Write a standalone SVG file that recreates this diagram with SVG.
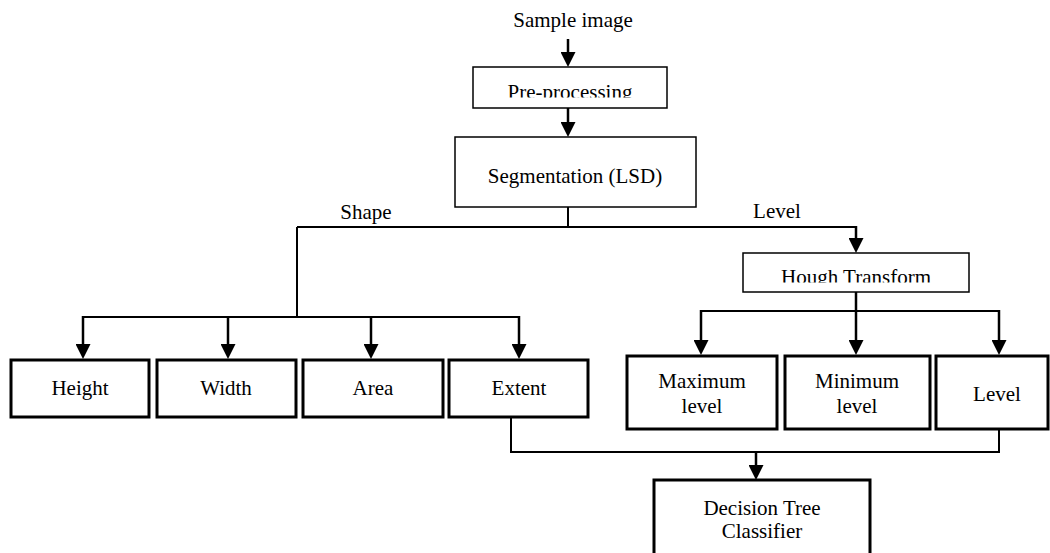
<svg xmlns="http://www.w3.org/2000/svg" width="1050" height="553" viewBox="0 0 1050 553">
<style>
text{font-family:"Liberation Serif","Times New Roman",serif;font-size:21px;fill:#000;text-anchor:middle}
.thin{fill:#fff;stroke:#000;stroke-width:1.5}
.thick{fill:#fff;stroke:#000;stroke-width:3}
.ln{fill:none;stroke:#000;stroke-width:2}
.ar{fill:none;stroke:#000;stroke-width:2.5;marker-end:url(#ah)}
</style>
<defs>
<marker id="ah" viewBox="0 0 15 15" markerWidth="15" markerHeight="15" markerUnits="userSpaceOnUse" refX="7" refY="7.5" orient="auto">
<path d="M0,0 L15,7.5 L0,15 z" fill="#000"/>
</marker>
<clipPath id="cpPre"><rect x="473" y="67" width="194" height="30.5"/></clipPath>
<clipPath id="cpHough"><rect x="743" y="253" width="226" height="29.5"/></clipPath>
</defs>
<rect width="1050" height="553" fill="#fff"/>
<g id="connectors">
<line class="ar" x1="568" y1="39" x2="568" y2="59"/>
<line class="ar" x1="568" y1="108" x2="568" y2="129"/>
<polyline class="ln" points="568,207 568,227"/>
<polyline class="ln" points="297,227 297,317"/>
<polyline class="ln" points="297,227 856,227"/>
<line class="ln" x1="83" y1="317" x2="519" y2="317"/>
<line class="ar" x1="83" y1="316" x2="83" y2="351"/>
<line class="ar" x1="228" y1="316" x2="228" y2="351"/>
<line class="ar" x1="371" y1="316" x2="371" y2="351"/>
<line class="ar" x1="519" y1="316" x2="519" y2="351"/>
<line class="ar" x1="856" y1="226" x2="856" y2="245"/>
<line class="ar" x1="856" y1="292" x2="856" y2="347"/>
<line class="ln" x1="701" y1="311" x2="999" y2="311"/>
<line class="ar" x1="701" y1="310" x2="701" y2="347"/>
<line class="ar" x1="999" y1="310" x2="999" y2="347"/>
<polyline class="ln" points="511,417 511,452 999,452 999,430"/>
<line class="ar" x1="756" y1="452" x2="756" y2="472"/>
</g>
<g id="sample"><text x="573" y="27">Sample image</text></g>
<g id="preprocessing"><rect class="thin" x="473" y="67" width="194" height="41"/><text x="570" y="99" clip-path="url(#cpPre)">Pre-processing</text></g>
<g id="segmentation"><rect class="thin" x="455" y="137" width="241" height="70"/><text x="575" y="183">Segmentation (LSD)</text></g>
<g id="label-shape"><text x="366" y="219">Shape</text></g>
<g id="label-level"><text x="777" y="218">Level</text></g>
<g id="hough"><rect class="thin" x="743" y="253" width="226" height="39"/><text x="856" y="284" clip-path="url(#cpHough)">Hough Transform</text></g>
<g id="height"><rect class="thick" x="11" y="360" width="138" height="57"/><text x="80" y="395">Height</text></g>
<g id="width"><rect class="thick" x="157" y="360" width="139" height="57"/><text x="226" y="395">Width</text></g>
<g id="area"><rect class="thick" x="303" y="360" width="140" height="57"/><text x="373" y="395">Area</text></g>
<g id="extent"><rect class="thick" x="449" y="360" width="139" height="57"/><text x="519" y="395">Extent</text></g>
<g id="maximum"><rect class="thick" x="627" y="356" width="150" height="73"/><text x="702" y="388">Maximum</text><text x="702" y="413">level</text></g>
<g id="minimum"><rect class="thick" x="785" y="356" width="145" height="73"/><text x="857" y="388">Minimum</text><text x="857" y="413">level</text></g>
<g id="level"><rect class="thick" x="936" y="356" width="112" height="73"/><text x="997" y="401">Level</text></g>
<g id="decision"><rect class="thick" x="654" y="480" width="216" height="85"/><text x="762" y="515">Decision Tree</text><text x="762" y="538">Classifier</text></g>
</svg>
